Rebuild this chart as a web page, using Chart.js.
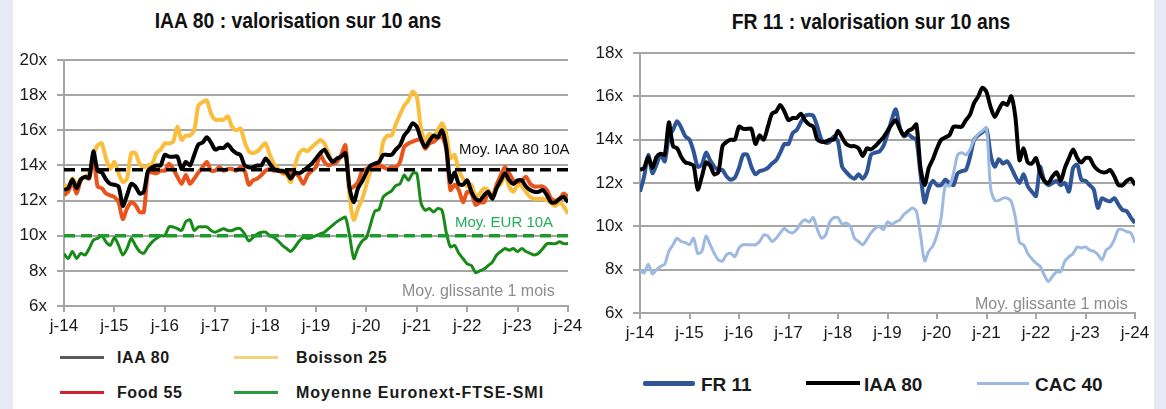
<!DOCTYPE html>
<html lang="fr">
<head>
<meta charset="utf-8">
<script src="https://cdn.jsdelivr.net/npm/chart.js@4/dist/chart.umd.min.js"></script>
<style>
  body { margin: 0; width: 1166px; height: 409px; background: #fff; position: relative; overflow: hidden;
         font-family: "Liberation Sans", Arial, sans-serif; }
  .strip { position: absolute; top: 0; height: 409px; background: #e7e9f4; }
  canvas { position: absolute; }
  .title { position: absolute; text-align: center; font-family: "Liberation Sans", Arial, sans-serif;
           font-weight: bold; font-size: 22px; color: #111; white-space: nowrap; transform: scaleX(0.88); }
  .note { position: absolute; white-space: nowrap; font-size: 15px; line-height: 1; }
  .lg { position: absolute; white-space: nowrap; font-weight: bold; line-height: 1; color: #1a1a1a; }
  .sw { position: absolute; }
</style>
</head>
<body>
<div class="strip" style="left:0;width:13px"></div>
<div class="strip" style="left:1154px;width:12px"></div>

<div class="title" style="left:98px;width:400px;top:8px">IAA 80 : valorisation sur 10 ans</div>
<div class="title" style="left:671px;width:400px;top:9px">FR 11 : valorisation sur 10 ans</div>

<canvas id="left" width="600" height="340" style="left:0;top:0"></canvas>
<canvas id="right" width="586" height="353" style="left:580px;top:0"></canvas>

<div class="note" style="left:459px;top:141px;color:#111">Moy. IAA 80 10A</div>
<div class="note" style="left:455px;top:214px;color:#22ad57">Moy. EUR 10A</div>
<div class="note" style="left:402px;top:283px;color:#8c8c8c;font-size:16px">Moy. glissante 1 mois</div>
<div class="note" style="left:975px;top:296px;color:#8c8c8c;font-size:16px">Moy. glissante 1 mois</div>

<!-- légende gauche -->
<div class="sw" style="left:60px;top:356px;width:44px;height:3px;background:#5a5a5a"></div>
<div class="lg" style="left:117px;top:350px;font-size:16px;letter-spacing:0.6px">IAA 80</div>
<div class="sw" style="left:234px;top:356px;width:44px;height:3px;background:#f4d27c"></div>
<div class="lg" style="left:296px;top:350px;font-size:16px;letter-spacing:0.6px">Boisson 25</div>
<div class="sw" style="left:60px;top:391px;width:44px;height:3px;background:#d3202a"></div>
<div class="lg" style="left:117px;top:385px;font-size:16px;letter-spacing:0.6px">Food 55</div>
<div class="sw" style="left:234px;top:391px;width:44px;height:3px;background:#2a9940"></div>
<div class="lg" style="left:296px;top:385px;font-size:16px;letter-spacing:1px">Moyenne Euronext-FTSE-SMI</div>

<!-- légende droite -->
<div class="sw" style="left:643px;top:381px;width:52px;height:5px;border-radius:2px;background:#2f5597"></div>
<div class="lg" style="left:701px;top:375px;font-size:19px">FR 11</div>
<div class="sw" style="left:806px;top:381px;width:54px;height:4px;background:#000"></div>
<div class="lg" style="left:864px;top:375px;font-size:19px">IAA 80</div>
<div class="sw" style="left:977px;top:382px;width:52px;height:3px;background:#9db9e2"></div>
<div class="lg" style="left:1035px;top:375px;font-size:19px">CAC 40</div>

<script>
// axe des temps : un point par mois, janv. 2014 -> janv. 2024
const yearLabels = ["j-14", "j-15", "j-16", "j-17", "j-18", "j-19", "j-20", "j-21", "j-22", "j-23", "j-24"];

// PER (x) moyenne glissante 1 mois
const iaa80 = [
  12.6, 12.7, 13.2, 12.7, 13.2, 13.35, 13.3, 14.8, 13.7, 13.6,
  13.2, 12.95, 12.9, 12.8, 11.7, 12.3, 12.95, 12.8, 12.4, 12.5,
  13.7, 13.9, 14.0, 14.0, 14.6, 14.5, 14.5, 14.5, 13.8, 14.2,
  14.0, 14.6, 15.2, 15.3, 15.6, 15.3, 14.9, 15.0, 15.0, 15.2,
  14.9, 14.7, 14.6, 14.0, 13.9, 13.9, 14.0, 14.0, 14.4, 14.1,
  13.8, 13.7, 13.7, 13.6, 13.25, 13.6, 13.55, 13.7, 13.9, 14.1,
  14.4, 14.7, 14.9, 14.5, 14.2, 14.4, 14.5, 14.7, 12.7, 11.9,
  12.7, 13.1, 13.6, 14.0, 14.1, 14.2, 14.6, 14.6, 14.6, 14.9,
  15.15, 15.7, 16.0, 16.4, 16.2, 15.5, 15.05, 15.4, 15.7, 15.6,
  16.0, 15.05, 13.05, 13.6, 12.95, 12.9, 13.15, 12.5, 12.1, 12.0,
  12.3, 12.5, 12.1, 12.7, 13.15, 13.55, 13.15, 12.95, 13.15, 13.15,
  12.8, 12.6, 12.5, 12.5, 12.6, 12.3, 11.9, 11.9, 12.1, 12.2, 11.9
];
const boisson25 = [
  12.9, 12.8, 13.25, 12.9, 13.25, 13.35, 13.55, 14.6, 15.15, 15.25,
  14.4, 13.8, 14.2, 13.55, 13.05, 13.25, 14.7, 14.7, 14.1, 13.9,
  14.0, 14.1, 14.7, 14.9, 15.25, 15.25, 15.35, 16.2, 15.45, 15.7,
  15.7, 16.0, 17.4, 17.6, 17.7, 16.95, 16.6, 16.6, 16.6, 16.8,
  16.2, 16.0, 16.1, 15.35, 14.8, 14.7, 14.8, 15.05, 15.25, 14.6,
  14.1, 13.8, 13.55, 13.45, 13.05, 14.0, 14.7, 14.9, 14.8, 15.05,
  15.25, 15.45, 15.25, 14.7, 14.2, 14.3, 14.5, 14.8, 12.2, 10.9,
  11.55, 12.1, 12.9, 13.7, 14.1, 14.0, 15.35, 15.7, 15.7, 16.35,
  16.9, 17.4, 17.7, 18.2, 17.9, 16.1, 15.35, 15.8, 15.6, 16.0,
  16.4, 15.8, 14.4, 14.6, 13.7, 13.25, 12.8, 12.9, 12.2, 12.4,
  12.7, 12.6, 12.2, 12.8, 12.95, 13.45, 12.8, 12.5, 12.9, 12.8,
  12.5, 12.2, 12.1, 12.1, 12.1, 12.0, 11.85, 11.7, 11.9, 11.65, 11.25
];
const food55 = [
  12.3, 12.5, 13.05, 12.4, 13.15, 13.35, 13.25, 14.5, 12.8, 12.7,
  12.4, 12.3, 12.2, 11.9, 10.95, 11.55, 11.9, 11.75, 11.35, 11.35,
  13.6, 13.6, 13.55, 13.7, 13.7, 14.1, 13.8, 13.35, 12.95, 13.45,
  12.95, 13.25, 13.6, 13.9, 14.2, 13.7, 13.7, 13.9, 13.7, 13.8,
  13.8, 13.7, 13.9, 13.7, 12.9, 13.15, 13.25, 13.45, 13.7, 13.8,
  13.7, 13.7, 13.6, 13.55, 13.6, 13.55, 13.35, 12.95, 13.45, 13.7,
  13.9, 14.6, 14.2, 14.0, 14.1, 14.2, 14.6, 15.15, 12.7, 12.8,
  13.05, 13.7, 13.8, 13.9, 13.9, 14.0, 13.9, 13.8, 13.9, 13.9,
  14.2, 15.05, 15.25, 15.35, 15.45, 15.45, 14.95, 15.25, 15.35, 15.55,
  15.65, 14.95, 12.6, 12.9, 12.6, 11.9, 12.5, 12.4, 11.75, 11.9,
  11.9, 12.4, 12.2, 12.9, 13.45, 13.9, 13.55, 13.15, 13.05, 13.15,
  13.35, 12.95, 12.8, 12.8, 12.8, 12.6, 12.1, 12.0, 12.1, 12.4, 12.2
];
const euronext = [
  8.98, 8.7, 9.1, 8.7, 9.0, 8.9, 9.27, 9.75, 9.85, 10.0,
  9.65, 9.45, 9.9, 9.45, 8.9, 9.27, 9.85, 9.45, 9.1, 9.0,
  9.36, 9.65, 9.85, 10.0, 10.0, 10.5, 10.5, 10.4, 10.3, 10.8,
  10.9, 10.3, 10.5, 10.5, 10.5, 10.3, 10.2, 10.3, 10.4, 10.3,
  10.3, 10.4, 10.4, 10.1, 9.7, 9.9, 10.1, 10.2, 10.2, 10.0,
  9.9, 9.7, 9.45, 9.27, 9.1, 9.36, 9.7, 9.9, 9.85, 9.9,
  10.0, 10.1, 10.2, 10.4, 10.6, 10.8, 10.95, 11.05, 10.0, 8.7,
  9.3, 9.7, 9.9, 10.65, 11.4, 11.5, 12.2, 12.4, 12.55, 12.85,
  12.95, 13.45, 13.15, 13.55, 13.55, 11.85, 11.45, 11.55, 11.35, 11.55,
  11.45, 10.2, 9.36, 9.45, 9.0, 8.7, 8.4, 8.3, 7.9, 8.0,
  8.1, 8.3, 8.5, 8.9, 9.1, 9.27, 9.17, 9.27, 9.1, 9.27,
  9.1, 9.0, 8.9, 9.0, 9.27, 9.55, 9.55, 9.55, 9.65, 9.55, 9.55
];
const fr11 = [
  11.6, 12.3, 13.3, 12.45, 12.85, 13.3, 13.0, 14.15, 14.45, 14.85,
  14.55, 14.15, 14.0, 13.45, 12.75, 12.85, 13.4, 13.05, 12.75, 12.6,
  12.6, 12.3, 12.15, 12.25, 12.7, 13.3, 13.3, 12.75, 12.4, 12.55,
  12.6, 12.7, 12.9, 13.05, 13.4, 13.8, 13.8, 14.3, 14.45, 14.8,
  15.1, 15.15, 15.1, 14.6, 14.0, 13.85, 13.9, 14.15, 13.9, 12.75,
  12.5, 12.3, 12.2, 12.4, 12.2, 12.5, 13.3, 13.4, 13.45, 13.7,
  14.25, 14.9, 15.4, 14.55, 14.15, 14.25, 14.1, 14.0, 12.4, 11.1,
  11.75, 12.1, 11.9, 11.9, 12.15, 12.0, 11.9, 12.45, 12.55, 12.6,
  13.2, 14.0, 14.2, 14.35, 14.5, 13.3, 12.75, 13.1, 12.9, 13.0,
  12.7, 12.3, 12.0, 12.4, 11.85, 11.6, 11.4, 12.75, 12.1, 11.9,
  12.0, 12.1, 11.9, 12.0, 11.6, 12.7, 12.85, 12.15, 12.1, 11.9,
  11.7, 10.85, 11.3, 11.2, 11.15, 11.3, 11.0, 10.75, 10.7, 10.4, 10.15
];
const cac40 = [
  8.0, 7.85, 8.25, 7.8, 8.0, 8.15, 8.25, 8.85, 9.15, 9.45,
  9.3, 9.25, 9.15, 9.45, 8.75, 8.85, 9.55, 9.15, 8.75, 8.45,
  8.4, 8.7, 8.75, 8.6, 9.0, 9.15, 9.15, 9.15, 9.15, 9.3,
  9.6, 9.55, 9.3, 9.45, 9.7, 9.9, 9.75, 9.7, 9.85, 10.15,
  10.3, 10.2, 10.4, 9.85, 9.45, 9.6, 10.2, 10.4, 10.4, 10.1,
  10.15, 10.0, 9.45, 9.3, 9.15, 9.4, 9.7, 9.9, 10.0, 9.85,
  10.2, 10.1, 10.2, 10.3, 10.55, 10.7, 10.85, 10.7, 9.6, 8.4,
  8.85, 9.1, 9.6, 10.4, 11.9, 11.85, 12.45, 13.3, 13.4, 13.3,
  13.55, 14.0, 14.25, 14.4, 14.55, 11.75, 11.2, 11.2, 11.3, 11.3,
  11.15, 10.4, 9.25, 9.15, 8.75, 8.5, 8.3, 8.15, 7.75, 7.45,
  7.7, 7.9, 7.9, 8.4, 8.6, 8.75, 9.05, 9.0, 9.05, 8.9,
  8.85, 8.7, 8.45, 8.9, 9.05, 9.4, 9.85, 9.85, 9.75, 9.7, 9.25
];

// moyennes 10 ans
const iaaAvg10y = 13.75;
const eurAvg10y = 10.0;

const GRID = "#a6a6a6";
const TICK_FONT = { family: "'Liberation Sans', Arial, sans-serif", size: 17 };

function pts(values) {
  return values.map((v, i) => ({ x: i, y: v }));
}

function flat(v) {
  return [{ x: 0, y: v }, { x: (yearLabels.length - 1) * 12, y: v }];
}

function line(data, color, width, extra) {
  return Object.assign({
    data: pts(data),
    borderColor: color,
    borderWidth: width,
    pointRadius: 0,
    tension: 0.25,
    fill: false
  }, extra || {});
}

function dashed(v, color) {
  return {
    data: flat(v),
    borderColor: color,
    borderWidth: 3.5,
    borderDash: [11, 6],
    pointRadius: 0,
    fill: false
  };
}

function buildScales(yMin, yMax, yWidth, xHeight) {
  return {
    x: {
      type: "linear",
      min: 0,
      max: (yearLabels.length - 1) * 12,
      afterFit: (s) => { s.height = xHeight; s.paddingLeft = 0; s.paddingRight = 0; },
      grid: { drawOnChartArea: false, drawTicks: true, tickLength: 6, color: GRID, lineWidth: 2 },
      border: { display: true, color: GRID, width: 2 },
      ticks: {
        stepSize: 12,
        autoSkip: false,
        maxRotation: 0,
        padding: 4,
        color: "#1a1a1a",
        font: TICK_FONT,
        callback: (v) => yearLabels[v / 12]
      }
    },
    y: {
      min: yMin,
      max: yMax,
      afterFit: (s) => { s.width = yWidth; s.paddingTop = 0; s.paddingBottom = 0; },
      grid: { color: GRID, lineWidth: 2, tickLength: 7 },
      border: { display: true, color: GRID, width: 2 },
      ticks: {
        stepSize: 2,
        padding: 10,
        color: "#1a1a1a",
        font: TICK_FONT,
        callback: (v) => v + "x"
      }
    }
  };
}

const baseOptions = {
  responsive: false,
  animation: false,
  devicePixelRatio: 1,
  plugins: { legend: { display: false }, tooltip: { enabled: false } }
};

// graphique gauche : IAA 80
// (le premier jeu est dessiné au-dessus)
new Chart(document.getElementById("left").getContext("2d"), {
  type: "line",
  data: {
    datasets: [
      dashed(iaaAvg10y, "#000"),
      dashed(eurAvg10y, "#1f9a2e"),
      line(iaa80, "#000", 4),
      line(food55, "#e8541c", 4),
      line(boisson25, "#fbbd3c", 4),
      line(euronext, "#178a17", 3)
    ]
  },
  options: Object.assign({}, baseOptions, {
    layout: { padding: { left: 0, right: 32, top: 60, bottom: 0 } },
    scales: buildScales(6, 20, 64, 34)
  })
});

// graphique droit : FR 11
new Chart(document.getElementById("right").getContext("2d"), {
  type: "line",
  data: {
    datasets: [
      line(iaa80, "#000", 4),
      line(cac40, "#9db9e2", 3),
      line(fr11, "#2f5597", 4)
    ]
  },
  options: Object.assign({}, baseOptions, {
    layout: { padding: { left: 0, right: 31, top: 53, bottom: 0 } },
    scales: buildScales(6, 18, 60, 40)
  })
});
</script>
</body>
</html>
